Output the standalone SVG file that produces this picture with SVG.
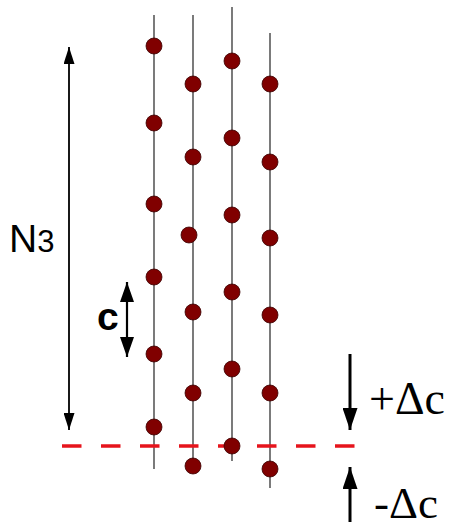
<svg xmlns="http://www.w3.org/2000/svg" width="450" height="527" viewBox="0 0 450 527">
<defs>
<style>
.rod{stroke:#222;stroke-width:1.2;fill:none}
.atom{fill:#800000;stroke:#3a0000;stroke-width:0.8}
.arr{stroke:#000;fill:none}
.sans{font-family:"Liberation Sans",Arial,sans-serif;fill:#000}
.serif{font-family:"Liberation Serif","Times New Roman",serif;fill:#000}
</style>
<marker id="ahc" viewBox="0 0 10 10" refX="10" refY="5" markerWidth="20" markerHeight="14" markerUnits="userSpaceOnUse" orient="auto-start-reverse" preserveAspectRatio="none">
<path d="M0,0 L10,5 L0,10 Z" fill="#000"/>
</marker>
<marker id="ahd" viewBox="0 0 10 10" refX="10" refY="5" markerWidth="22" markerHeight="15" markerUnits="userSpaceOnUse" orient="auto-start-reverse" preserveAspectRatio="none">
<path d="M0,0 L10,5 L0,10 Z" fill="#000"/>
</marker>
<marker id="ahn" viewBox="0 0 10 10" refX="10" refY="5" markerWidth="17" markerHeight="11" markerUnits="userSpaceOnUse" orient="auto-start-reverse" preserveAspectRatio="none">
<path d="M0,0 L10,5 L0,10 Z" fill="#000"/>
</marker>
</defs>
<rect width="450" height="527" fill="#fff"/>
<g id="rods">
<line class="rod" x1="154" y1="15" x2="154" y2="469"/>
<line class="rod" x1="193" y1="15" x2="193" y2="466"/>
<line class="rod" x1="232" y1="7" x2="232" y2="461"/>
<line class="rod" x1="270" y1="33" x2="270" y2="488"/>
</g>
<g id="baseline">
<line x1="62" y1="446" x2="355" y2="446" stroke="#e6141c" stroke-width="3.5" stroke-dasharray="19.5,19.5"/>
</g>
<g id="atoms">
<circle class="atom" cx="154" cy="46" r="8"/>
<circle class="atom" cx="154" cy="123" r="8"/>
<circle class="atom" cx="154" cy="204" r="8"/>
<circle class="atom" cx="154" cy="277" r="8"/>
<circle class="atom" cx="154" cy="354" r="8"/>
<circle class="atom" cx="154" cy="427" r="8"/>
<circle class="atom" cx="193" cy="84" r="8"/>
<circle class="atom" cx="193" cy="157" r="8"/>
<circle class="atom" cx="189" cy="235" r="8"/>
<circle class="atom" cx="193" cy="312" r="8"/>
<circle class="atom" cx="193" cy="393" r="8"/>
<circle class="atom" cx="193" cy="466" r="8"/>
<circle class="atom" cx="232" cy="61" r="8"/>
<circle class="atom" cx="232" cy="138" r="8"/>
<circle class="atom" cx="232" cy="215" r="8"/>
<circle class="atom" cx="232" cy="292" r="8"/>
<circle class="atom" cx="232" cy="369" r="8"/>
<circle class="atom" cx="232" cy="446" r="8"/>
<circle class="atom" cx="270" cy="84" r="8"/>
<circle class="atom" cx="270" cy="162" r="8"/>
<circle class="atom" cx="270" cy="238" r="8"/>
<circle class="atom" cx="270" cy="315" r="8"/>
<circle class="atom" cx="270" cy="393" r="8"/>
<circle class="atom" cx="270" cy="469" r="8"/>
</g>
<g id="connectors">
<line class="arr" x1="69" y1="47" x2="69" y2="430" stroke-width="1.8" marker-start="url(#ahn)" marker-end="url(#ahn)"/>
<line class="arr" x1="127" y1="282" x2="127" y2="357" stroke-width="2.2" marker-start="url(#ahc)" marker-end="url(#ahc)"/>
<line class="arr" x1="350" y1="354" x2="350" y2="430" stroke-width="3" marker-end="url(#ahd)"/>
<line class="arr" x1="350" y1="522" x2="350" y2="467" stroke-width="3" marker-end="url(#ahd)"/>
</g>
<g id="label-n3">
<text class="sans" x="9" y="252" font-size="39">N<tspan font-size="31">3</tspan></text>
</g>
<g id="label-c">
<text class="sans" x="97" y="330" font-size="39" font-weight="bold">c</text>
</g>
<g id="label-plus">
<text class="serif" x="369" y="414" font-size="46">+Δc</text>
</g>
<g id="label-minus">
<text class="serif" x="374" y="518" font-size="45">-Δc</text>
</g>
</svg>
